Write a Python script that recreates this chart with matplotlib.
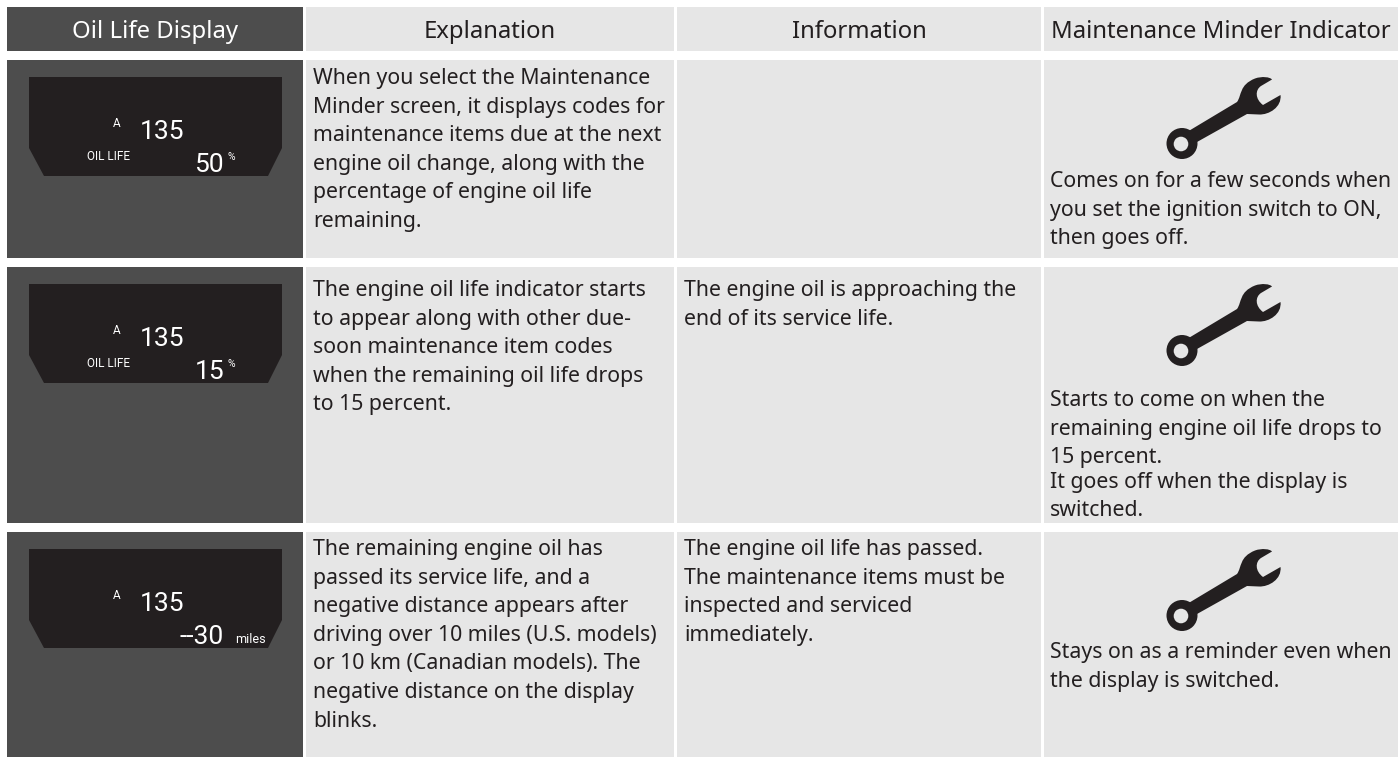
import matplotlib
matplotlib.use("Agg")
import matplotlib.pyplot as plt
from matplotlib.patches import Rectangle, Polygon, Circle, PathPatch
from matplotlib.path import Path

headers = ["Oil Life Display", "Explanation", "Information", "Maintenance Minder Indicator"]
explanations = [
    ["When you select the Maintenance", "Minder screen, it displays codes for",
     "maintenance items due at the next", "engine oil change, along with the",
     "percentage of engine oil life", "remaining."],
    ["The engine oil life indicator starts", "to appear along with other due-",
     "soon maintenance item codes", "when the remaining oil life drops", "to 15 percent."],
    ["The remaining engine oil has", "passed its service life, and a",
     "negative distance appears after", "driving over 10 miles (U.S. models)",
     "or 10 km (Canadian models). The", "negative distance on the display", "blinks."],
]
information = [
    [],
    ["The engine oil is approaching the", "end of its service life."],
    ["The engine oil life has passed.", "The maintenance items must be",
     "inspected and serviced", "immediately."],
]
indicators = [
    ["Comes on for a few seconds when", "you set the ignition switch to ON,", "then goes off."],
    ["Starts to come on when the", "remaining engine oil life drops to", "15 percent.",
     "It goes off when the display is", "switched."],
    ["Stays on as a reminder even when", "the display is switched."],
]
screen_codes = ["135", "135", "135"]
screen_labels = ["OIL LIFE", "OIL LIFE", ""]
screen_values = ["50", "15", "--30"]
screen_units = ["%", "%", "miles"]

W, H = 1398, 757
DARK, LIGHT, SCREEN = "#4d4d4d", "#e6e6e6", "#231f20"
FONT = "Noto Sans"
FS = 15.3
FS_HEAD = 17.2
LINE = 28.6
LCD = "Roboto"

cols = [(7, 303), (306, 674), (677, 1041), (1044, 1398)]
rows = [(60, 257.5), (267, 523), (532, 757)]
head = (7, 51)
first_base = [84, 296, 555]
ind_base = [187, 406, 658]
ind_para_start = [99, 3, 99]  # line index at which a new, tighter paragraph starts

fig = plt.figure(figsize=(W / 100, H / 100), dpi=100, facecolor="white")
ax = fig.add_axes([0, 0, 1, 1])
ax.set_xlim(0, W)
ax.set_ylim(H, 0)
ax.axis("off")


def rect(x0, x1, y0, y1, c):
    ax.add_patch(Rectangle((x0, y0), x1 - x0, y1 - y0, fc=c, ec="none"))


def wrench(left, top):
    M, L, C = Path.MOVETO, Path.LINETO, Path.CURVE4
    # outline in icon pixels, relative to the icon's top-left corner
    pts = [
        (M, (20, 55)), (L, (70, 25)),
        (C, (75, 18)), (C, (72, 8)), (C, (88, 1.5)),
        (C, (95, -1)), (C, (103, 0)), (C, (105, 2.5)),
        (L, (94, 9)),
        (C, (88, 13)), (C, (88, 22)), (C, (96, 28)),
        (L, (113.5, 18)),
        (C, (115, 30)), (C, (102, 38)), (C, (92, 37.5)),
        (L, (80, 37)), (L, (30, 65)), (L, (18, 62)),
    ]
    verts = [(left + p[0], top + p[1]) for _, p in pts] + [(0, 0)]
    codes = [c for c, _ in pts] + [Path.CLOSEPOLY]
    ax.add_patch(PathPatch(Path(verts, codes), fc=SCREEN, ec="none"))
    ax.add_patch(Circle((left + 15, top + 66.5), 15.5, fc=SCREEN, ec="none"))
    ax.add_patch(Circle((left + 14, top + 67), 7.3, fc=LIGHT, ec="none"))


# Header band
for i, ((x0, x1), label) in enumerate(zip(cols, headers)):
    rect(x0, x1, head[0], head[1], DARK if i == 0 else LIGHT)
    ax.text((x0 + x1) / 2, 38, label, ha="center", va="baseline", family=FONT, fontsize=FS_HEAD,
            color="white" if i == 0 else "#231f20")

# Body rows
for r, (y0, y1) in enumerate(rows):
    for c, (x0, x1) in enumerate(cols):
        rect(x0, x1, y0, y1, DARK if c == 0 else LIGHT)
    # LCD screen
    t = y0 + 17
    ax.add_patch(Polygon([(29, t), (282, t), (282, t + 71), (268, t + 99), (44, t + 99), (29, t + 71)],
                         fc=SCREEN, ec="none"))
    ax.text(117, t + 50, "A", ha="center", va="baseline", family=LCD, fontsize=8.5, color="white")
    ax.text(162.5, t + 62, screen_codes[r], ha="center", va="baseline", family=LCD,
            fontsize=19, color="white")
    ax.text(87, t + 83, screen_labels[r], ha="left", va="baseline", family=LCD, fontsize=8.5, color="white")
    is_dist = screen_units[r] == "miles"
    ax.text(224, t + 95, screen_values[r], ha="right", va="baseline", family=LCD,
            fontsize=19, color="white")
    ax.text(235 if is_dist else 228, t + (94 if is_dist else 83), screen_units[r], ha="left", va="baseline",
            family=LCD, fontsize=9 if is_dist else 7.5, color="white")
    # Text columns
    for k, line in enumerate(explanations[r]):
        ax.text(313, first_base[r] + k * LINE, line, va="baseline", family=FONT, fontsize=FS, color="#231f20")
    for k, line in enumerate(information[r]):
        ax.text(684, first_base[r] + k * LINE, line, va="baseline", family=FONT, fontsize=FS, color="#231f20")
    for k, line in enumerate(indicators[r]):
        shift = -4 if k >= ind_para_start[r] else 0
        ax.text(1050, ind_base[r] + k * LINE + shift, line, va="baseline", family=FONT, fontsize=FS, color="#231f20")
    wrench(1167, t)

fig.savefig("out.png", dpi=100, facecolor="white")
